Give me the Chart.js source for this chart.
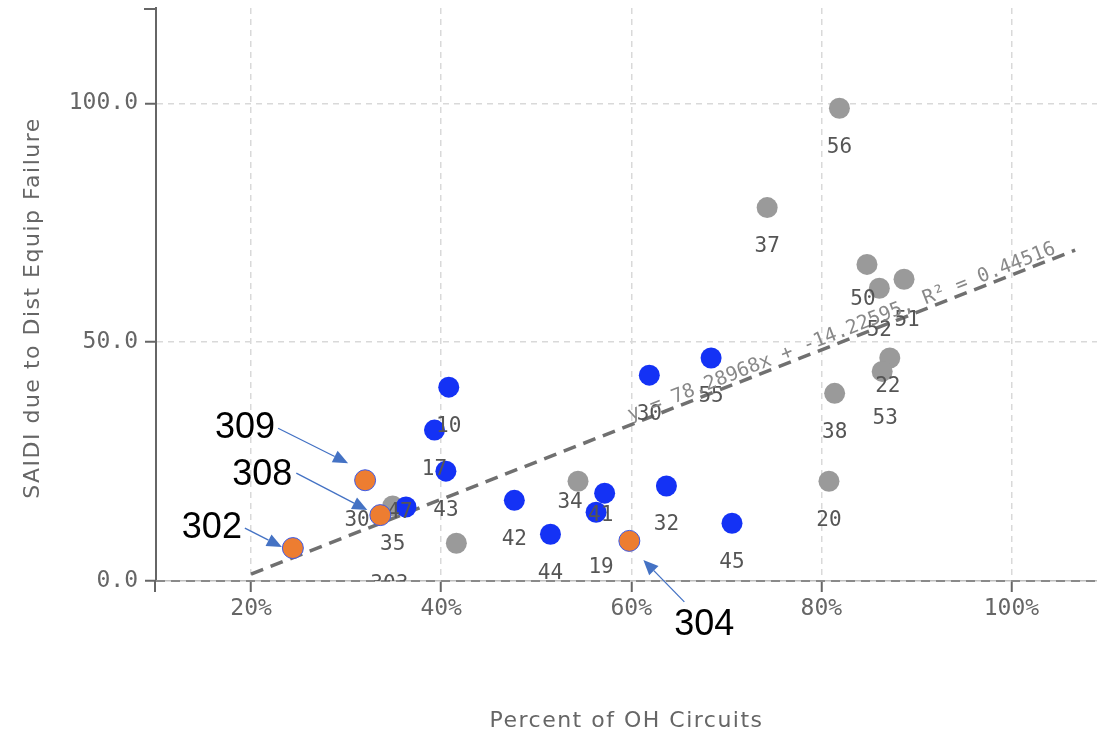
<!DOCTYPE html>
<html><head><meta charset="utf-8">
<script src="https://cdn.jsdelivr.net/npm/chart.js@4.4.1/dist/chart.umd.min.js"></script>
<style>html,body{margin:0;padding:0;background:#fff;}#wrap{width:1097px;height:736px;}</style>
</head><body><div id="wrap"><canvas id="c" width="1097" height="736"></canvas></div>
<script>
// ---- data ----
const grayIds = ['56','37','50','52','51','22','53','38','20','34','35',''];
const grayX   = [81.9,74.3,84.8,86.1,88.7,87.2,86.4,81.4,80.8,54.4,34.9,41.6];
const grayY   = [99.0,78.2,66.3,61.3,63.2,46.7,43.9,39.3,20.9,20.9,15.7,7.9];
const blueIds = ['10','17','43','47','42','44','41','19','32','30','55','45'];
const blueX   = [40.8,39.3,40.5,36.3,47.7,51.5,57.2,56.3,63.7,61.9,68.4,70.6];
const blueY   = [40.6,31.6,23.0,15.5,16.9,9.8,18.4,14.4,19.9,43.1,46.7,12.1];
const orangeIds    = ['302','309','308','304'];
const orangeLabels = ['','30','303',''];
const orangeX = [24.4,32.0,33.6,59.8];
const orangeY = [6.9,21.1,13.8,8.4];
const xTicks = [20,40,60,80,100];
const yTicks = [0,50,100];
const trendSlope = 78.28968, trendIntercept = -14.22595, trendR2 = 0.44516;
const trendFrom = 20, trendTo = 106.7;
const xTitle = 'Percent of OH Circuits';
const yTitle = 'SAIDI due to Dist Equip Failure';

// ---- build library structures ----
const pts = (xs, ys) => xs.map((v,i)=>({x:v, y:ys[i]}));
const trendAt = p => trendSlope * p / 100 + trendIntercept;
const trendText = `y = ${trendSlope}x + ${trendIntercept}, R² = ${trendR2}`;

// label nudges (px) where the reference moved a label away from default (below point)
const shiftGray = {'50':[-4,35],'52':[0,42],'51':[3,41],'22':[-2,29],'53':[3,47],'34':[-8,21]};
const shiftBlue = {'41':[-4,22],'19':[5,55],'47':[-6,6]};
const shiftOrange = {'30':[-8,40],'303':[9,69]};
// callout layout relative to each highlighted point: text centre, arrow tail, arrow tip
const callout = {
  '302':{t:[-81,-20], a:[-48,-20], b:[-11,-1]},
  '309':{t:[-120,-52], a:[-87,-52], b:[-17,-17]},
  '308':{t:[-118,-40], a:[-84,-42], b:[-13,-5]},
  '304':{t:[75,84], a:[55,61], b:[14,19]}
};

const MONO = '"DejaVu Sans Mono", monospace';

function drawLabels(chart){
  const {ctx, chartArea:a, scales:{x,y}} = chart;
  ctx.save();
  ctx.beginPath(); ctx.rect(a.left, a.top, a.right-a.left, a.bottom-a.top); ctx.clip();
  ctx.font = '21px ' + MONO; ctx.fillStyle = '#555'; ctx.textAlign='center'; ctx.textBaseline='middle';
  const groups = [[grayIds,grayX,grayY,shiftGray],[blueIds,blueX,blueY,shiftBlue],[orangeLabels,orangeX,orangeY,shiftOrange]];
  groups.forEach(([ids,xs,ys,sh])=>ids.forEach((t,i)=>{
    if(!t) return;
    const o = sh[t] || [0,39];
    ctx.fillText(t, x.getPixelForValue(xs[i])+o[0], y.getPixelForValue(ys[i])+o[1]);
  }));
  // regression equation along the trend line
  const cx = 82.5, px = x.getPixelForValue(cx), py = y.getPixelForValue(trendAt(cx));
  const ang = Math.atan2(y.getPixelForValue(trendAt(100))-y.getPixelForValue(trendAt(20)), x.getPixelForValue(100)-x.getPixelForValue(20));
  ctx.translate(px, py); ctx.rotate(ang);
  ctx.font = '19.5px ' + MONO; ctx.fillStyle = '#888'; ctx.textBaseline='alphabetic';
  ctx.fillText(trendText, 0, -4);
  ctx.restore();
}

const overlay = {
  id:'overlay',
  afterDatasetDraw(chart, args){
    if (args.meta.label === 'blue') drawLabels(chart);
  },
  afterDatasetsDraw(chart){
    const {ctx, chartArea:a, scales:{x,y}} = chart;
    ctx.save();
    // axis end details
    ctx.strokeStyle='#666'; ctx.lineWidth=2;
    ctx.beginPath(); ctx.moveTo(a.left-1, a.bottom); ctx.lineTo(a.left-1, a.bottom+11); ctx.stroke();
    ctx.beginPath(); ctx.moveTo(a.left-12, a.top+1); ctx.lineTo(a.left, a.top+1); ctx.stroke();
    // axis titles
    ctx.fillStyle='#666'; ctx.textAlign='center'; ctx.textBaseline='middle';
    ctx.font = '22px "DejaVu Sans", sans-serif';
    ctx.letterSpacing = '1.5px';
    ctx.fillText(xTitle, (a.left+a.right)/2, 721);
    ctx.save(); ctx.translate(33, 308); ctx.rotate(-Math.PI/2); ctx.fillText(yTitle, 0, 0); ctx.restore();
    ctx.letterSpacing = '0px';
    // callouts
    orangeIds.forEach((id,i)=>{
      const c = callout[id]; if(!c) return;
      const px = x.getPixelForValue(orangeX[i]), py = y.getPixelForValue(orangeY[i]);
      const ax = px+c.a[0], ay = py+c.a[1], bx = px+c.b[0], by = py+c.b[1];
      const ang = Math.atan2(by-ay, bx-ax), L = 15, W = 6.5;
      const hx = bx - L*Math.cos(ang), hy = by - L*Math.sin(ang);
      ctx.strokeStyle='#4472c4'; ctx.fillStyle='#4472c4'; ctx.lineWidth=1.3;
      ctx.beginPath(); ctx.moveTo(ax,ay); ctx.lineTo(hx,hy); ctx.stroke();
      ctx.beginPath(); ctx.moveTo(bx,by);
      ctx.lineTo(hx + W*Math.sin(ang), hy - W*Math.cos(ang));
      ctx.lineTo(hx - W*Math.sin(ang), hy + W*Math.cos(ang)); ctx.closePath(); ctx.fill();
      ctx.fillStyle='#000'; ctx.font='36px "Liberation Sans", Arial, sans-serif';
      ctx.textAlign='center'; ctx.textBaseline='middle';
      ctx.fillText(id, px+c.t[0], py+c.t[1]);
    });
    ctx.restore();
  }
};

const pointStyle = (color) => ({pointRadius:10.5, pointHoverRadius:10.5, pointBackgroundColor:color, pointBorderWidth:0, showLine:false});

new Chart(document.getElementById('c'), {
  type:'scatter',
  data:{datasets:[
    Object.assign({label:'orange', data:pts(orangeX,orangeY), order:0}, pointStyle('#ed7d31'), {pointBorderWidth:1, pointBorderColor:'#3c5ae6'}),
    Object.assign({label:'blue', data:pts(blueX,blueY), order:1}, pointStyle('#1432f5')),
    Object.assign({label:'gray', data:pts(grayX,grayY), order:2}, pointStyle('#9a9a9a')),
    {label:'trend', type:'line', data:[{x:trendFrom,y:trendAt(trendFrom)},{x:trendTo,y:trendAt(trendTo)}], order:3,
      borderColor:'#707070', borderWidth:3.5, borderDash:[13,8], pointRadius:0, fill:false},
    {label:'zero', type:'line', data:[{x:10,y:0},{x:109,y:0}], order:4, clip:false,
      borderColor:'#8a8a8a', borderWidth:2, borderDash:[9,6], pointRadius:0, fill:false}
  ]},
  options:{
    responsive:false, animation:false, events:[],
    layout:{autoPadding:false, padding:{top:8,left:0,right:0,bottom:0}},
    plugins:{legend:{display:false}, tooltip:{enabled:false}},
    scales:{
      x:{type:'linear', min:10, max:109, position:'bottom',
        afterBuildTicks:s=>{s.ticks = xTicks.map(v=>({value:v}));},
        afterFit:s=>{s.height=155; s.paddingLeft=0; s.paddingRight=0;},
        ticks:{callback:v=>v+'%', font:{family:'DejaVu Sans Mono', size:23}, color:'#666', padding:3, maxRotation:0, autoSkip:false},
        grid:{color:'#d9d9d9', lineWidth:1.5, tickLength:11, tickColor:'#666', tickWidth:2},
        border:{color:'#bdbdbd', width:1.5, dash:[6,5]}
      },
      y:{type:'linear', min:0, max:120,
        afterBuildTicks:s=>{s.ticks = yTicks.map(v=>({value:v}));},
        afterFit:s=>{s.width=156; s.paddingTop=0; s.paddingBottom=0;},
        ticks:{callback:v=>v.toFixed(1), font:{family:'DejaVu Sans Mono', size:23}, color:'#666', padding:7},
        grid:{color:c=>(c.tick && c.tick.value===0)?'rgba(0,0,0,0)':'#d9d9d9', lineWidth:1.5, tickLength:11, tickColor:'#666', tickWidth:2},
        border:{color:'#666', width:2, dash:[6,5]}
      }
    }
  },
  plugins:[overlay]
});
</script></body></html>
